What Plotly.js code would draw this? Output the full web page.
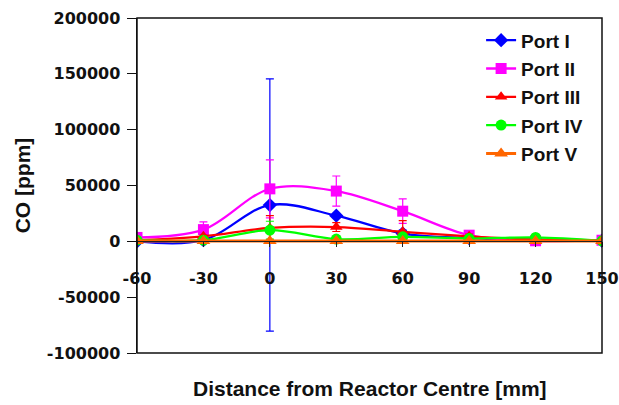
<!DOCTYPE html>
<html>
<head>
<meta charset="utf-8">
<script src="https://cdn.plot.ly/plotly-3.0.1.min.js"></script>
<style>
  body { margin: 0; background: #fff; }
  #coGraph { width: 619px; height: 405px; }
</style>
</head>
<body>
<div id="coGraph"></div>
<script>
// distance from reactor centre (mm)
var distance = [-60, -30, 0, 30, 60, 90, 120, 150];

// CO readings (ppm) per port
var portI   = [0, 1000, 32500, 23000, 7000, 3000, 1500, 500];
var portII  = [3500, 10500, 47000, 45000, 27000, 5500, 500, 1000];
var portIII = [1000, 4500, 12000, 12800, 8500, 4500, 1500, 500];
var portIV  = [1000, 1000, 10000, 2000, 4000, 2500, 3500, 500];
var portV   = [200, 200, 300, 200, 200, 300, 200, 300];

// error bars (+/-)
var portIErr   = [0, 0, 113000, 0, 3000, 0, 0, 0];
var portIIErr  = [0, 7000, 26000, 13500, 11000, 1500, 0, 0];
var portIIIErr = [0, 1000, 11000, 4000, 10000, 2000, 0, 0];
var portIVErr  = [0, 0, 8000, 0, 1000, 0, 0, 0];
var portVErr   = [0, 0, 0, 0, 0, 0, 0, 0];

var portNames = ["Port I", "Port II", "Port III", "Port IV", "Port V"];
var xTicks = [-60, -30, 0, 30, 60, 90, 120, 150];
var yTicks = [-100000, -50000, 0, 50000, 100000, 150000, 200000];

var tickFont = {family: "DejaVu Sans", size: 16, color: "#111", weight: 700};
var titleFont = {family: "Liberation Sans, Arial", size: 21, color: "#111", weight: 700};

function makeTrace(name, y, err, color, symbol, size, lw) {
    return {
        type: "scatter",
        mode: "lines+markers",
        name: name,
        legendgroup: name,
        x: distance,
        y: y,
        line: {color: color, width: lw, shape: "spline"},
        marker: {color: color, symbol: symbol, size: size},
        error_y: {type: "data", array: err, visible: true, color: color, thickness: 1.2, width: 4}
    };
}

var data = [
    makeTrace(portNames[0], portI, portIErr, "#0000FF", "diamond", 11, 2.3),
    makeTrace(portNames[1], portII, portIIErr, "#FF00FF", "square", 11, 2.3),
    makeTrace(portNames[2], portIII, portIIIErr, "#FF0000", "triangle-up", 11, 2.3),
    makeTrace(portNames[3], portIV, portIVErr, "#00FF00", "circle", 11, 2.3),
    makeTrace(portNames[4], portV, portVErr, "#FF6600", "triangle-up", 12, 3)
];

var layout = {
    width: 619,
    height: 405,
    margin: {l: 137, r: 17, t: 18, b: 52},
    paper_bgcolor: "#fff",
    plot_bgcolor: "#fff",
    showlegend: true,
    legend: {
        x: 0.74, y: 0.99, xanchor: "left", yanchor: "top",
        bgcolor: "rgba(0,0,0,0)",
        font: {family: "Liberation Sans, Arial", size: 19, color: "#111", weight: 700},
        tracegroupgap: 0.6
    },
    xaxis: {
        range: [-60, 150],
        tickvals: xTicks,
        ticktext: xTicks.map(String),
        tickfont: tickFont,
        anchor: "free",
        position: 1 / 3,
        showline: true,
        linecolor: "#222",
        linewidth: 1,
        ticks: "outside",
        ticklen: 5,
        tickcolor: "#222",
        ticklabelstandoff: 17,
        showgrid: false,
        zeroline: false,
        title: {text: ""}
    },
    yaxis: {
        range: [-100000, 200000],
        tickvals: yTicks,
        ticktext: yTicks.map(String),
        tickfont: tickFont,
        showline: true,
        linecolor: "#111",
        linewidth: 1.5,
        ticks: "outside",
        ticklen: 9,
        tickcolor: "#111",
        ticklabelstandoff: 3,
        showgrid: false,
        zeroline: false,
        title: {text: "CO [ppm]", font: titleFont, standoff: 10}
    },
    annotations: [{
        text: "Distance from Reactor Centre [mm]",
        xref: "paper", yref: "paper",
        x: 0.5, y: 0, yshift: -35,
        xanchor: "center", yanchor: "middle",
        showarrow: false,
        font: titleFont
    }],
    // plot area border
    shapes: [{
        type: "rect", xref: "paper", yref: "paper",
        x0: 0, x1: 1, y0: 0, y1: 1,
        line: {color: "#111", width: 1.5}
    }]
};

Plotly.newPlot("coGraph", data, layout, {displayModeBar: false, staticPlot: true});
</script>
</body>
</html>
